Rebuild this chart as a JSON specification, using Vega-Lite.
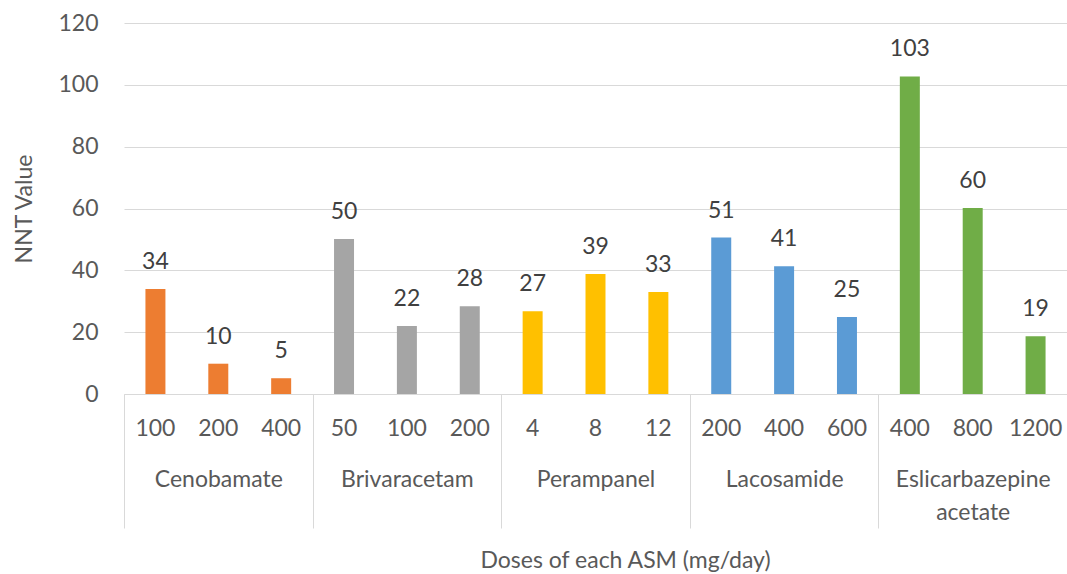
{
  "$schema": "https://vega.github.io/schema/vega-lite/v6.json",
  "autosize": "none",
  "width": 943,
  "height": 371,
  "padding": {"left": 124, "top": 23, "right": 0, "bottom": 180},
  "background": "white",
  "config": {
    "view": {"stroke": null},
    "font": "Lato",
    "axis": {"labelFont": "Lato", "titleFont": "Lato", "labelColor": "#595959", "titleColor": "#595959", "titleFontWeight": "normal"}
  },
  "data": {
    "values": [
      {"asm": "Cenobamate", "dose": "100", "value": 34.0},
      {"asm": "Cenobamate", "dose": "200", "value": 9.8},
      {"asm": "Cenobamate", "dose": "400", "value": 5.1},
      {"asm": "Brivaracetam", "dose": "50", "value": 50.1},
      {"asm": "Brivaracetam", "dose": "100", "value": 22.0},
      {"asm": "Brivaracetam", "dose": "200", "value": 28.4},
      {"asm": "Perampanel", "dose": "4", "value": 26.8},
      {"asm": "Perampanel", "dose": "8", "value": 38.8},
      {"asm": "Perampanel", "dose": "12", "value": 33.0},
      {"asm": "Lacosamide", "dose": "200", "value": 50.6},
      {"asm": "Lacosamide", "dose": "400", "value": 41.3},
      {"asm": "Lacosamide", "dose": "600", "value": 24.9},
      {"asm": "Eslicarbazepine acetate", "dose": "400", "value": 102.7},
      {"asm": "Eslicarbazepine acetate", "dose": "800", "value": 60.2},
      {"asm": "Eslicarbazepine acetate", "dose": "1200", "value": 18.7}
    ]
  },
  "transform": [
    {"calculate": "datum.asm + '|' + datum.dose", "as": "key"}
  ],
  "layer": [
    {
      "layer": [
        {
          "mark": {"type": "bar"},
          "encoding": {
            "x": {
              "field": "key", "type": "nominal", "sort": null,
              "scale": {"paddingInner": 0.682, "paddingOuter": 0.341},
              "axis": {
                "title": null, "labelExpr": "split(datum.label, '|')[1]",
                "labelAngle": 0, "ticks": false, "domain": true, "domainColor": "#d9d9d9", "domainWidth": 1,
                "labelFontSize": 23, "labelPadding": 23, "labelBaseline": "top"
              }
            },
            "y": {
              "field": "value", "type": "quantitative",
              "scale": {"domain": [0, 120]},
              "axis": {
                "title": "NNT Value", "values": [0, 20, 40, 60, 80, 100, 120],
                "domain": false, "ticks": false, "grid": true, "gridColor": "#d9d9d9", "gridWidth": 1,
                "labelFontSize": 23, "labelPadding": 26, "titleFontSize": 23, "titlePadding": 21
              }
            },
            "color": {
              "field": "asm", "type": "nominal", "legend": null,
              "scale": {
                "domain": ["Cenobamate", "Brivaracetam", "Perampanel", "Lacosamide", "Eslicarbazepine acetate"],
                "range": ["#ED7D31", "#A5A5A5", "#FFC000", "#5B9BD5", "#70AD47"]
              }
            }
          }
        },
        {
          "mark": {"type": "text", "baseline": "alphabetic", "dy": -20, "fontSize": 23, "color": "#404040", "font": "Lato"},
          "encoding": {
            "x": {"field": "key", "type": "nominal", "sort": null},
            "y": {"field": "value", "type": "quantitative"},
            "text": {"field": "value", "type": "quantitative", "format": ".0f"}
          }
        }
      ]
    },
    {
      "mark": {"type": "rule", "strokeOpacity": 0},
      "encoding": {
        "x": {
          "field": "asm", "type": "nominal", "sort": null,
          "scale": {"paddingInner": 0, "paddingOuter": 0},
          "axis": {
            "orient": "bottom", "tickBand": "extent", "tickSize": 134, "tickColor": "#d9d9d9", "tickWidth": 1,
            "domain": false, "labelAngle": 0, "labelFontSize": 23, "labelPadding": -60, "labelBaseline": "top",
            "labelLineHeight": 33,
            "labelExpr": "datum.label == 'Eslicarbazepine acetate' ? ['Eslicarbazepine', 'acetate'] : datum.label",
            "title": "Doses of each ASM (mg/day)", "titleFontSize": 23, "titlePadding": 21, "titleX": 501
          }
        }
      }
    }
  ],
  "resolve": {"scale": {"x": "independent"}}
}
